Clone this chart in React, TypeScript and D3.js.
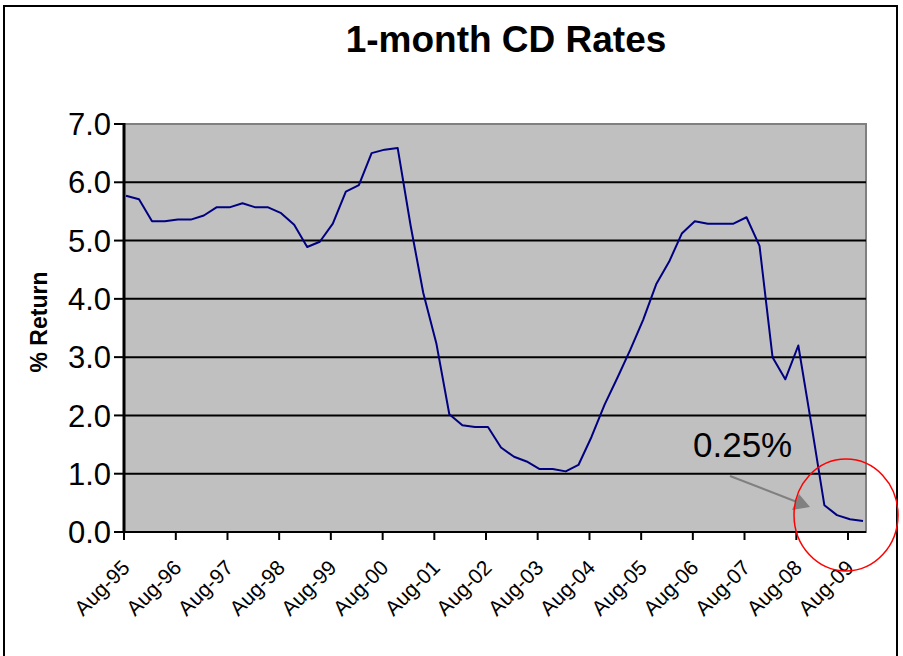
import React from "react";
import * as d3 from "d3";

// Quarterly 1-month CD rates (%), starting Aug-1995
const startYear = 1995;
const startMonth = 7; // August (0-based)
const rates = [
  5.77, 5.71, 5.33, 5.33, 5.36, 5.36, 5.43, 5.57, 5.57, 5.64,
  5.57, 5.57, 5.47, 5.27, 4.89, 4.98, 5.29, 5.84, 5.95, 6.5,
  6.56, 6.59, 5.25, 4.1, 3.24, 2.02, 1.83, 1.8, 1.8, 1.45,
  1.29, 1.21, 1.08, 1.08, 1.04, 1.15, 1.63, 2.18, 2.65, 3.12,
  3.64, 4.25, 4.64, 5.12, 5.33, 5.29, 5.29, 5.29, 5.4, 4.91,
  3.0, 2.62, 3.2, 1.85, 0.46, 0.29, 0.22, 0.19,
];
const tickYears = d3.range(1995, 2010);
const yTicks = [0, 1, 2, 3, 4, 5, 6, 7];
const title = "1-month CD Rates";
const yTitle = "% Return";
const calloutText = "0.25%";

const W = 903;
const H = 656;
const plot = { left: 124, top: 124, right: 866, bottom: 532 };
const FONT = "'Liberation Sans', Arial, sans-serif";

export default function App() {
  const points = rates.map((v, i) => ({
    date: new Date(startYear, startMonth + 3 * i, 15),
    value: v,
  }));

  const x = d3
    .scaleTime()
    .domain([new Date(1995, 7, 1), new Date(2009, 7, 1)])
    .range([plot.left, 848]);
  const y = d3.scaleLinear().domain([0, 7]).range([plot.bottom, plot.top]);
  const fmt = d3.timeFormat("%b-%y");

  const line = d3
    .line<{ date: Date; value: number }>()
    .x((d) => x(d.date))
    .y((d) => y(d.value));

  return (
    <svg
      width={W}
      height={H}
      style={{ position: "absolute", left: 0, top: 0, background: "#fff" }}
      fontFamily={FONT}
    >
      {/* outer chart frame */}
      <path
        d={`M4,${H + 5} V6 H897 V${H + 5}`}
        fill="none"
        stroke="#000"
        strokeWidth={2}
      />

      {/* title */}
      <text
        x={506}
        y={52}
        textAnchor="middle"
        fontSize={37}
        fontWeight="bold"
      >
        {title}
      </text>

      {/* plot background */}
      <rect
        x={plot.left}
        y={plot.top}
        width={plot.right - plot.left}
        height={plot.bottom - plot.top}
        fill="#c0c0c0"
        stroke="#808080"
        strokeWidth={2}
      />

      {/* gridlines */}
      {yTicks
        .filter((t) => t > 0 && t < 7)
        .map((t) => (
          <line
            key={t}
            x1={plot.left}
            x2={plot.right}
            y1={y(t)}
            y2={y(t)}
            stroke="#000"
            strokeWidth={2}
          />
        ))}

      {/* y axis */}
      <line
        x1={plot.left}
        x2={plot.left}
        y1={plot.top - 1}
        y2={plot.bottom + 1}
        stroke="#000"
        strokeWidth={3}
      />
      {yTicks.map((t) => (
        <g key={t}>
          <line
            x1={plot.left - 10}
            x2={plot.left}
            y1={y(t)}
            y2={y(t)}
            stroke="#000"
            strokeWidth={2}
          />
          <text
            x={111}
            y={y(t)}
            dy="0.36em"
            textAnchor="end"
            fontSize={31}
          >
            {t.toFixed(1)}
          </text>
        </g>
      ))}
      <text
        transform={`translate(47,322) rotate(-90)`}
        textAnchor="middle"
        fontSize={23}
        fontWeight="bold"
      >
        {yTitle}
      </text>

      {/* x axis */}
      <line
        x1={plot.left}
        x2={plot.right}
        y1={plot.bottom}
        y2={plot.bottom}
        stroke="#000"
        strokeWidth={2}
      />
      {tickYears.map((yr) => {
        const d = new Date(yr, 7, 1);
        const tx = x(d);
        return (
          <g key={yr}>
            <line
              x1={tx}
              x2={tx}
              y1={plot.bottom}
              y2={plot.bottom + 8}
              stroke="#000"
              strokeWidth={2}
            />
            <text
              transform={`translate(${tx + 7},${plot.bottom + 37}) rotate(-45)`}
              textAnchor="end"
              fontSize={21}
            >
              {fmt(d)}
            </text>
          </g>
        );
      })}

      {/* rate series */}
      <path
        d={line(points) ?? ""}
        fill="none"
        stroke="#000080"
        strokeWidth={2}
        strokeLinejoin="round"
      />

      {/* callout */}
      <text x={693} y={457} fontSize={35}>
        {calloutText}
      </text>
      <line
        x1={730}
        y1={476}
        x2={797}
        y2={502}
        stroke="#808080"
        strokeWidth={2}
      />
      <polygon points="810,507 792,510 799,494" fill="#808080" />
      <ellipse
        cx={846}
        cy={515}
        rx={52}
        ry={56}
        fill="none"
        stroke="#ff0000"
        strokeWidth={1.5}
      />
    </svg>
  );
}
